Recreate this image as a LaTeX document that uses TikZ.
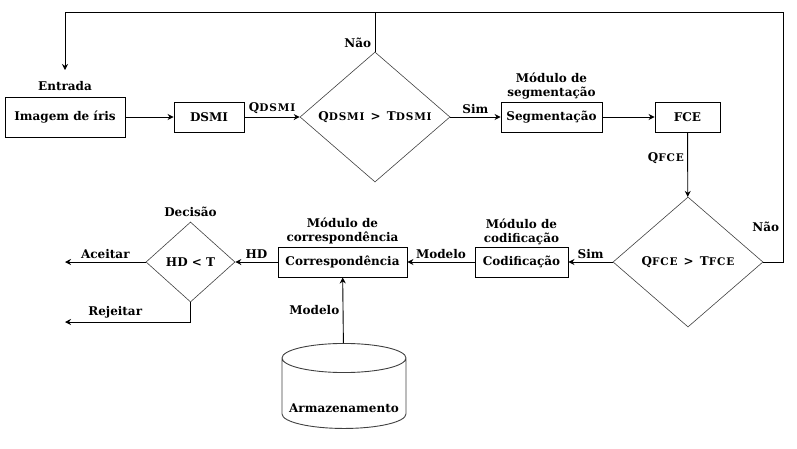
\documentclass[tikz,border=0pt]{standalone}
\usepackage{fontspec}
\setmainfont{DejaVu Serif}
\usetikzlibrary{arrows.meta, shapes.geometric, positioning}

\newcommand{\smcap}[1]{{\fontsize{10.5}{12}\selectfont\addfontfeature{LetterSpace=8}#1}}

\begin{document}
\begin{tikzpicture}[x=1pt, y=-1pt, >={Stealth[length=6pt,width=6pt]},
	font=\bfseries\fontsize{12}{14}\selectfont,
	block/.style={draw, line width=0.9pt, minimum height=30pt, inner sep=2pt},
	decision/.style={diamond, draw=black!75, line width=0.6pt, inner sep=0pt},
	flow/.style={->, line width=0.9pt},
	lbl/.style={align=center, inner sep=1pt}]
	\useasboundingbox (0,0) rectangle (797,448);

	\node[block, minimum width=120pt, minimum height=40pt] (img) at (65,117) {Imagem de íris};
	\node[block, minimum width=70pt] (dsmi) at (209,117) {DSMI};
	\node[decision, minimum width=150pt, minimum height=130pt] (q1) at (375,117) {Q\smcap{DSMI}\ \,>\ \,T\smcap{DSMI}};
	\node[block, minimum width=101pt] (seg) at (551.5,117) {Segmentação};
	\node[block, minimum width=65pt] (fce) at (687.5,117) {FCE};
	\node[decision, minimum width=150pt, minimum height=130pt] (q2) at (688,262) {Q\smcap{FCE}\ \,>\ \,T\smcap{FCE}};
	\node[block, minimum width=93pt] (cod) at (521.5,262) {Codificação};
	\node[block, minimum width=129pt] (cor) at (342.5,262) {Correspondência};
	\node[decision, minimum width=89pt, minimum height=80pt] (q3) at (190.5,262) {HD < T};
	\node[cylinder, shape border rotate=90, draw=black!75, line width=0.9pt, aspect=0.25,
		minimum width=124pt, minimum height=85pt, anchor=north] (arm) at (344,343)
		{\raisebox{-17pt}[0pt][0pt]{Armazenamento}};

	% titles of the modules
	\node[lbl, above=5pt of img] (lin) {Entrada};
	\node[lbl, above=1pt of seg] (lseg) {Módulo de\\segmentação};
	\node[lbl, above=1pt of cod] (lcod) {Módulo de\\codificação};
	\node[lbl, above=1pt of cor] (lcor) {Módulo de\\correspondência};
	\node[lbl, above=4pt of q3] (ldec) {Decisão};

	\coordinate (fbr) at (783,12);
	\coordinate (fbl) at (65,12);
	\coordinate (in) at (65,70);
	\coordinate (acc) at (65,262);
	\coordinate (rej) at (65,322);

	\draw[flow] (img) -- (dsmi);
	\draw[flow] (dsmi) -- node[above] {Q\smcap{DSMI}} (q1);
	\draw[flow] (q1) -- node[above] {Sim} (seg);
	\draw[flow] (seg) -- (fce);
	\draw[flow] (fce) -- node[pos=0.4, left] {Q\smcap{FCE}} (q2);
	\draw[flow] (q2) -- node[above] {Sim} (cod);
	\draw[flow] (cod) -- node[above] {Modelo} (cor);
	\draw[flow] (cor) -- node[above] {HD} (q3);
	\draw[flow] (arm) -- node[left] {Modelo} (cor);
	\draw[flow] (q3.west) -- node[above] {Aceitar} (acc);
	\draw[flow] (q3.south) |- node[pos=0.8, above] {Rejeitar} (rej);

	% back to the input
	\draw[flow] (q2.east) -| node[pos=0.57, left] {Não} (fbr) -- (fbl) -- (in);
	\draw[line width=0.9pt] (q1.north) -- node[pos=0.22, left] {Não} (q1.north |- fbl);
\end{tikzpicture}
\end{document}
